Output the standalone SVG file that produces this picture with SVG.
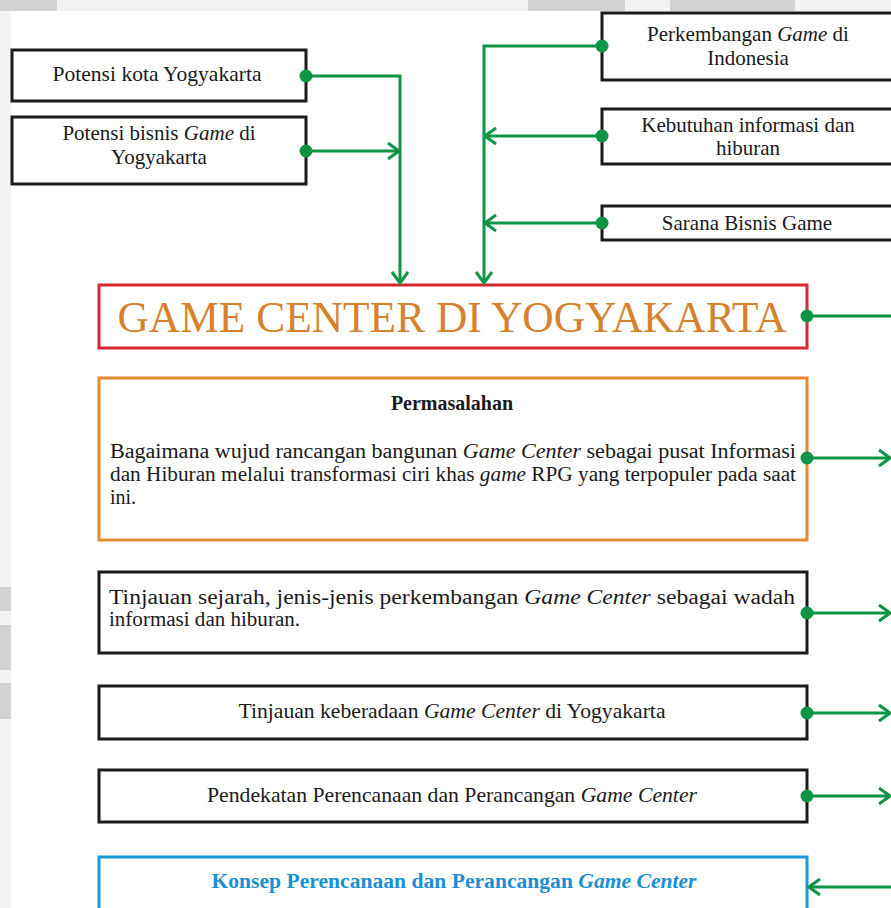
<svg xmlns="http://www.w3.org/2000/svg" width="891" height="908" viewBox="0 0 891 908">
  <style>
    .box { fill: #ffffff; stroke: #1a1a1a; stroke-width: 3; }
    .t { font-family: "Liberation Serif", "Times New Roman", serif; fill: #1a1a1a; }
    .s21 { font-size: 21px; }
    .s20 { font-size: 20px; }
    .i { font-style: italic; }
    .con { fill: none; stroke: #0d9445; stroke-width: 3; }
  </style>
  <defs>
    <marker id="ah" markerUnits="userSpaceOnUse" markerWidth="16" markerHeight="20" viewBox="-13 -10 15 20" refX="0" refY="0" orient="auto">
      <path d="M-11,-8 L0,0 L-11,8" fill="none" stroke="#0d9445" stroke-width="3"/>
    </marker>
    <marker id="dot" markerUnits="userSpaceOnUse" markerWidth="16" markerHeight="16" viewBox="-8 -8 16 16" refX="0" refY="0" orient="auto">
      <circle r="6.5" fill="#0d9445"/>
    </marker>
  </defs>

  <!-- background / watermark -->
  <rect x="0" y="0" width="891" height="908" fill="#f3f3f3"/>
  <rect x="0" y="0" width="57" height="11" fill="#d2d2d2"/>
  <rect x="528" y="0" width="97" height="11" fill="#d2d2d2"/>
  <rect x="670" y="0" width="125" height="11" fill="#d2d2d2"/>
  <rect x="0" y="587" width="11" height="24" fill="#d2d2d2"/>
  <rect x="0" y="625" width="11" height="45" fill="#d2d2d2"/>
  <rect x="0" y="683" width="11" height="36" fill="#d2d2d2"/>
  <rect x="11" y="11" width="880" height="897" fill="#ffffff"/>

  <g id="potensi-kota">
    <rect class="box" x="12" y="50" width="294" height="51"/>
    <text class="t s21" x="157" y="81" text-anchor="middle" textLength="209" lengthAdjust="spacingAndGlyphs">Potensi kota Yogyakarta</text>
  </g>

  <g id="potensi-bisnis">
    <rect class="box" x="12" y="117" width="294" height="67"/>
    <text class="t s21" x="159" y="140" text-anchor="middle">Potensi bisnis <tspan class="i">Game</tspan> di</text>
    <text class="t s21" x="159" y="164" text-anchor="middle">Yogyakarta</text>
  </g>

  <g id="perkembangan">
    <rect class="box" x="602" y="13" width="296" height="67"/>
    <text class="t s21" x="748" y="41" text-anchor="middle">Perkembangan <tspan class="i">Game</tspan> di</text>
    <text class="t s21" x="748" y="65" text-anchor="middle">Indonesia</text>
  </g>

  <g id="kebutuhan">
    <rect class="box" x="602" y="109" width="296" height="55"/>
    <text class="t s21" x="748" y="132" text-anchor="middle">Kebutuhan informasi dan</text>
    <text class="t s21" x="748" y="155" text-anchor="middle">hiburan</text>
  </g>

  <g id="sarana">
    <rect class="box" x="602" y="206" width="296" height="34"/>
    <text class="t s21" x="747" y="230" text-anchor="middle">Sarana Bisnis Game</text>
  </g>

  <g id="game-center">
    <rect x="99" y="285" width="708" height="63" fill="#ffffff" stroke="#d9272e" stroke-width="3"/>
    <text x="452" y="332" text-anchor="middle" font-family="Liberation Serif, Times New Roman, serif" font-size="45" fill="#d6822c" textLength="669" lengthAdjust="spacingAndGlyphs">GAME CENTER DI YOGYAKARTA</text>
  </g>

  <g id="permasalahan">
    <rect x="99" y="378" width="708" height="162" fill="#ffffff" stroke="#e68a30" stroke-width="3"/>
    <text class="t s20" x="452" y="410" text-anchor="middle" font-weight="bold">Permasalahan</text>
    <text class="t s20" x="110" y="458" textLength="686" lengthAdjust="spacingAndGlyphs">Bagaimana wujud rancangan bangunan <tspan class="i">Game Center</tspan> sebagai pusat Informasi</text>
    <text class="t s20" x="110" y="481" textLength="686" lengthAdjust="spacingAndGlyphs">dan Hiburan melalui transformasi ciri khas <tspan class="i">game</tspan> RPG yang terpopuler pada saat</text>
    <text class="t s20" x="110" y="504">ini.</text>
  </g>

  <g id="tinjauan-sejarah">
    <rect class="box" x="99" y="572" width="708" height="81"/>
    <text class="t s20" x="109" y="604" textLength="686" lengthAdjust="spacingAndGlyphs">Tinjauan sejarah, jenis-jenis perkembangan <tspan class="i">Game Center</tspan> sebagai wadah</text>
    <text class="t s20" x="109" y="626" textLength="191" lengthAdjust="spacingAndGlyphs">informasi dan hiburan.</text>
  </g>

  <g id="tinjauan-keberadaan">
    <rect class="box" x="99" y="686" width="708" height="53"/>
    <text class="t s21" x="452" y="718" text-anchor="middle" textLength="427" lengthAdjust="spacingAndGlyphs">Tinjauan keberadaan <tspan class="i">Game Center</tspan> di Yogyakarta</text>
  </g>

  <g id="pendekatan">
    <rect class="box" x="99" y="770" width="708" height="52"/>
    <text class="t s21" x="452" y="802" text-anchor="middle" textLength="490" lengthAdjust="spacingAndGlyphs">Pendekatan Perencanaan dan Perancangan <tspan class="i">Game Center</tspan></text>
  </g>

  <g id="konsep">
    <rect x="99" y="857" width="708" height="60" fill="#ffffff" stroke="#1b9ad8" stroke-width="3"/>
    <text x="454" y="888" text-anchor="middle" font-family="Liberation Serif, Times New Roman, serif" font-size="21" font-weight="bold" fill="#1b8fd0" textLength="485" lengthAdjust="spacingAndGlyphs">Konsep Perencanaan dan Perancangan <tspan class="i">Game Center</tspan></text>
  </g>

  <!-- connectors (drawn last so the dots sit on the box edges) -->
  <g id="connectors">
    <path class="con" d="M306,76 H400 V283" marker-start="url(#dot)" marker-end="url(#ah)"/>
    <path class="con" d="M306,151 H399" marker-start="url(#dot)" marker-end="url(#ah)"/>
    <path class="con" d="M602,46 H484 V283" marker-start="url(#dot)" marker-end="url(#ah)"/>
    <path class="con" d="M602,136 H485" marker-start="url(#dot)" marker-end="url(#ah)"/>
    <path class="con" d="M602,223 H485" marker-start="url(#dot)" marker-end="url(#ah)"/>
    <path class="con" d="M807,316 H891" marker-start="url(#dot)"/>
    <path class="con" d="M807,458 H890" marker-start="url(#dot)" marker-end="url(#ah)"/>
    <path class="con" d="M807,613 H890" marker-start="url(#dot)" marker-end="url(#ah)"/>
    <path class="con" d="M807,713 H890" marker-start="url(#dot)" marker-end="url(#ah)"/>
    <path class="con" d="M807,796 H890" marker-start="url(#dot)" marker-end="url(#ah)"/>
    <path class="con" d="M891,887 H809" marker-end="url(#ah)"/>
  </g>
</svg>
